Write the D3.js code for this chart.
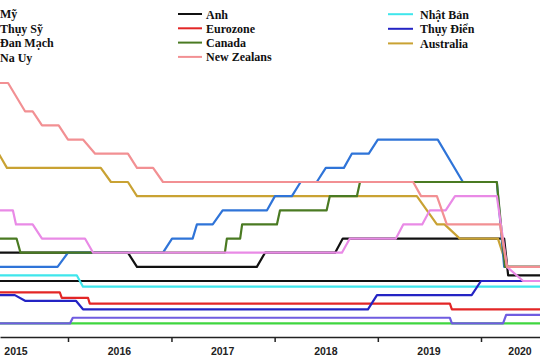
<!DOCTYPE html>
<html><head><meta charset="utf-8">
<script src="https://cdn.jsdelivr.net/npm/d3@7"></script>
<style>body{margin:0;background:#fff}svg{display:block}</style>
</head><body><svg id="c" width="540" height="360"></svg>
<script>
// ---- data: [date, rate %] vertices ----
const usa = [["2015-04-01",0.25],["2015-11-25",0.25],["2016-01-01",0.5],["2016-12-02",0.5],["2017-01-03",0.75],["2017-03-17",0.75],["2017-04-01",1.0],["2017-05-27",1.0],["2017-07-01",1.25],["2017-12-05",1.25],["2018-01-02",1.5],["2018-03-03",1.5],["2018-04-03",1.75],["2018-05-30",1.75],["2018-07-01",2.0],["2018-09-03",2.0],["2018-10-01",2.25],["2018-11-30",2.25],["2019-01-01",2.5],["2019-08-01",2.5],["2019-10-29",1.75],["2020-02-26",1.75],["2020-03-23",0.25],["2020-09-01",0.25]];
const switzerland = [["2015-04-01",-0.75],["2020-09-01",-0.75]];
const denmark = [["2015-04-01",-0.75],["2016-01-08",-0.75],["2016-01-18",-0.65],["2019-09-13",-0.65],["2019-09-20",-0.75],["2020-03-19",-0.75],["2020-03-30",-0.6],["2020-09-01",-0.6]];
const norway = [["2015-04-01",1.25],["2015-06-20",1.25],["2015-07-01",1.0],["2015-08-29",1.0],["2015-10-01",0.75],["2016-03-01",0.75],["2016-03-30",0.5],["2018-08-27",0.5],["2018-09-24",0.75],["2019-03-06",0.75],["2019-04-01",1.0],["2019-06-07",1.0],["2019-07-04",1.25],["2019-08-29",1.25],["2019-10-01",1.5],["2020-02-26",1.5],["2020-04-02",0.25],["2020-05-29",0],["2020-09-01",0]];
const uk = [["2015-04-01",0.5],["2016-07-31",0.5],["2016-09-01",0.25],["2017-10-30",0.25],["2017-11-28",0.5],["2018-08-03",0.5],["2018-08-30",0.75],["2020-03-23",0.75],["2020-04-06",0.1],["2020-09-01",0.1]];
const eurozone = [["2015-04-01",-0.2],["2015-12-03",-0.2],["2015-12-10",-0.3],["2016-03-12",-0.3],["2016-03-18",-0.4],["2019-09-13",-0.4],["2019-09-20",-0.5],["2020-09-01",-0.5]];
const canada = [["2015-04-01",0.75],["2015-07-03",0.75],["2015-07-17",0.5],["2017-07-09",0.5],["2017-07-16",0.75],["2017-09-01",0.75],["2017-09-08",1.0],["2018-01-09",1.0],["2018-01-20",1.25],["2018-07-04",1.25],["2018-07-15",1.5],["2018-10-19",1.5],["2018-10-30",1.75],["2020-02-26",1.75],["2020-03-26",0.25],["2020-09-01",0.25]];
const newZealand = [["2015-04-01",3.5],["2015-06-03",3.5],["2015-08-02",3.0],["2015-08-29",3.0],["2015-10-01",2.75],["2015-11-29",2.75],["2016-01-01",2.5],["2016-02-23",2.5],["2016-04-06",2.25],["2016-07-31",2.25],["2016-09-01",2.0],["2016-10-28",2.0],["2016-12-02",1.75],["2019-05-06",1.75],["2019-06-03",1.5],["2019-07-29",1.5],["2019-09-02",1.0],["2020-03-08",1.0],["2020-04-02",0.25],["2020-09-01",0.25]];
const japan = [["2015-04-01",0.1],["2016-02-01",0.1],["2016-02-23",-0.1],["2020-09-01",-0.1]];
const sweden = [["2015-04-01",-0.25],["2015-06-27",-0.25],["2015-08-02",-0.35],["2016-01-29",-0.35],["2016-02-23",-0.5],["2018-11-27",-0.5],["2018-12-29",-0.25],["2019-11-29",-0.25],["2020-01-01",0],["2020-09-01",0]];
const australia = [["2015-05-01",2.25],["2015-05-30",2.0],["2016-04-26",2.0],["2016-06-01",1.75],["2016-07-31",1.75],["2016-09-01",1.5],["2019-05-19",1.5],["2019-07-29",1.0],["2019-08-25",1.0],["2019-10-18",0.75],["2020-03-01",0.75],["2020-04-02",0.25],["2020-09-01",0.25]];

const years = ["2015","2016","2017","2018","2019","2020"];
const legendCol1 = ["Mỹ","Thụy Sỹ","Đan Mạch","Na Uy"];
const legendCol2 = ["Anh","Eurozone","Canada","New Zealans"];
const legendCol3 = ["Nhật Bản","Thụy Điển","Australia"];

// ---- styling ----
const colors = {
  "Mỹ":"#2f74d8","Thụy Sỹ":"#3fd63f","Đan Mạch":"#6f5ce0","Na Uy":"#e98ae6",
  "Anh":"#111111","Eurozone":"#e32626","Canada":"#4a7a22","New Zealans":"#f29093",
  "Nhật Bản":"#3fe6ec","Thụy Điển":"#2424c4","Australia":"#c9a233"
};
const seriesByName = {
  "Mỹ":usa,"Thụy Sỹ":switzerland,"Đan Mạch":denmark,"Na Uy":norway,"Anh":uk,
  "Eurozone":eurozone,"Canada":canada,"New Zealans":newZealand,"Nhật Bản":japan,
  "Thụy Điển":sweden,"Australia":australia
};
const drawOrder = ["Thụy Sỹ","Đan Mạch","Nhật Bản","Eurozone","Anh","Thụy Điển","Australia","Mỹ","Canada","Na Uy","New Zealans"];

const W = 540, H = 360;
const svg = d3.select("#c");
const parse = d3.utcParse("%Y-%m-%d");

const x = d3.scaleUtc()
  .domain([new Date(Date.UTC(2016,0,1)), new Date(Date.UTC(2020,0,1))])
  .range([68, 481]);
const y = d3.scaleLinear().domain([0, 3.5]).range([281, 83]);

svg.append("defs").append("clipPath").attr("id","plot")
  .append("rect").attr("x",0).attr("y",60).attr("width",W).attr("height",272);

const g = svg.append("g").attr("clip-path","url(#plot)");

// zero line
g.append("line").attr("x1",0).attr("x2",W).attr("y1",y(0)).attr("y2",y(0))
  .attr("stroke","#111").attr("stroke-width",2);

const line = d3.line().x(d => x(parse(d[0]))).y(d => y(d[1]));
drawOrder.forEach(name => {
  g.append("path").datum(seriesByName[name])
    .attr("d", line).attr("fill","none")
    .attr("stroke", colors[name]).attr("stroke-width",2.2)
    .attr("stroke-linejoin","round");
});

// x axis
const xAxisScale = x.copy().domain([x.invert(0), x.invert(W)]).range([0, W]);
const axis = svg.append("g").attr("transform","translate(0,337)")
  .call(d3.axisBottom(xAxisScale).ticks(d3.utcYear.every(1)).tickFormat("").tickSize(5).tickSizeOuter(0));
axis.select(".domain").attr("stroke","#222").attr("stroke-width",1.5);
axis.selectAll(".tick line").attr("stroke","#222").attr("stroke-width",1.5);

svg.append("g").selectAll("text").data(years).join("text")
  .attr("x", d => Math.min(x(new Date(Date.UTC(+d,6,1))), 520))
  .attr("y", 355)
  .attr("text-anchor","middle")
  .attr("font-family","'Liberation Sans', Arial, sans-serif")
  .attr("font-weight","bold").attr("font-size","10.5px").attr("fill","#222")
  .text(d => d);

// legend
function legendColumn(names, swX0, swX1, textX, y0, dy){
  const lg = svg.append("g");
  names.forEach((n,i) => {
    const cy = y0 + i*dy;
    lg.append("line").attr("x1",swX0).attr("x2",swX1).attr("y1",cy).attr("y2",cy)
      .attr("stroke",colors[n]).attr("stroke-width",2);
    lg.append("text").attr("x",textX).attr("y",cy+4.5)
      .attr("font-family","'Liberation Serif','Times New Roman',serif")
      .attr("font-weight","bold").attr("font-size","12px").attr("fill","#111")
      .text(n);
  });
}
legendColumn(legendCol1, -30, -6, 0, 13.5, 14.5);
legendColumn(legendCol2, 178, 202, 206, 14, 14.3);
legendColumn(legendCol3, 388, 413, 420, 14.2, 14.6);
</script></body></html>
